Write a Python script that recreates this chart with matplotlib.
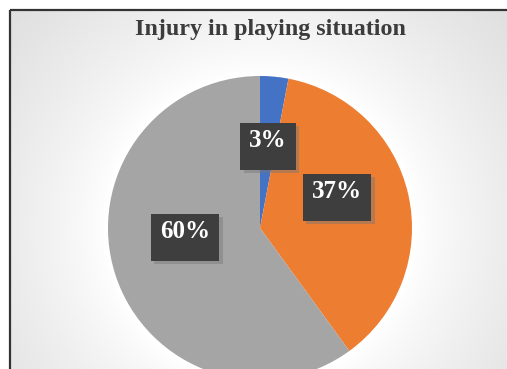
import numpy as np
import matplotlib
matplotlib.use("Agg")
import matplotlib.pyplot as plt
from matplotlib.path import Path
import matplotlib.patheffects as pe

# ---- data ----
categories = ["A", "B", "C"]
values = [3, 37, 60]
colors = ["#4472C4", "#ED7D31", "#A5A5A5"]
title = "Injury in playing situation"
# small label nudges (pixels, x right / y up) to mimic the original placement
label_nudge = [(0, 3), (-6, 18), (6, 23)]

W, H = 507, 369
fig = plt.figure(figsize=(W / 100, H / 100), dpi=100, facecolor="white")
ax = fig.add_axes([0, 0, 1, 1])

cx, cy, R = 260, 141, 152

wedges, texts, autotexts = ax.pie(
    values, colors=colors, startangle=90, counterclock=False,
    center=(cx, cy), radius=R, autopct="%1.0f%%", pctdistance=0.56,
    wedgeprops=dict(linewidth=0),
)
ax.set_xlim(0, W)
ax.set_ylim(0, H)
ax.set_aspect("equal")
ax.axis("off")
for w in wedges:
    w.set_zorder(3)

# background radial gradient (white glow around pie -> light gray)
pad = 4
yy, xx = np.mgrid[-pad:H + pad, -pad:W + pad]
d = np.sqrt((xx - cx) ** 2 + ((H - yy) - cy) ** 2)
t = np.clip((d - R * 1.02) / (R * 1.1), 0, 1)
g = 1.0 - 0.12 * t ** 0.8
img = np.dstack([g, g, g])
ax.imshow(img, extent=(-pad, W + pad, -pad, H + pad), origin="upper", zorder=0,
          interpolation="bilinear", aspect="auto")
ax.set_xlim(0, W)
ax.set_ylim(0, H)
ax.add_patch(plt.Rectangle((0, 0), 9, H, facecolor="white", edgecolor="none", zorder=1))
ax.add_patch(plt.Rectangle((0, H - 9), W, 9, facecolor="white", edgecolor="none", zorder=1))
ax.plot([9.5, 9.5], [0, H - 9.5], color="#333333", lw=1.6, zorder=2, solid_capstyle="butt")
ax.plot([9.5, W], [H - 9.5, H - 9.5], color="#333333", lw=1.6, zorder=2, solid_capstyle="butt")


def label_box(x0, y0, width, height, mutation_size):
    lp = 0.36 * mutation_size
    tp = 0.25 * mutation_size
    bp = 0.72 * mutation_size
    x1, y1 = x0 - lp, y0 - bp
    x2, y2 = x0 + width + lp, y0 + height + tp
    return Path([(x1, y1), (x2, y1), (x2, y2), (x1, y2), (x1, y1)], closed=True)


for at, (nx, ny) in zip(autotexts, label_nudge):
    x, y = at.get_position()
    at.set_position((x + nx, y + ny))
    at.set_fontfamily("Liberation Serif")
    at.set_fontweight("bold")
    at.set_fontsize(18)
    at.set_color("white")
    at.set_zorder(5)
    at.set_bbox(dict(boxstyle=label_box, facecolor="#3e3e3e", edgecolor="none"))
    at.get_bbox_patch().set_path_effects(
        [pe.SimplePatchShadow(offset=(2.5, -2.5), shadow_rgbFace="#777777", alpha=0.45), pe.Normal()]
    )

ax.text(270, H - 30, title, ha="center", va="center", fontsize=17.3,
        fontfamily="Liberation Serif", fontweight="bold", color="#3c3c3c", zorder=5)

fig.savefig("out.png", dpi=100, facecolor="white")
